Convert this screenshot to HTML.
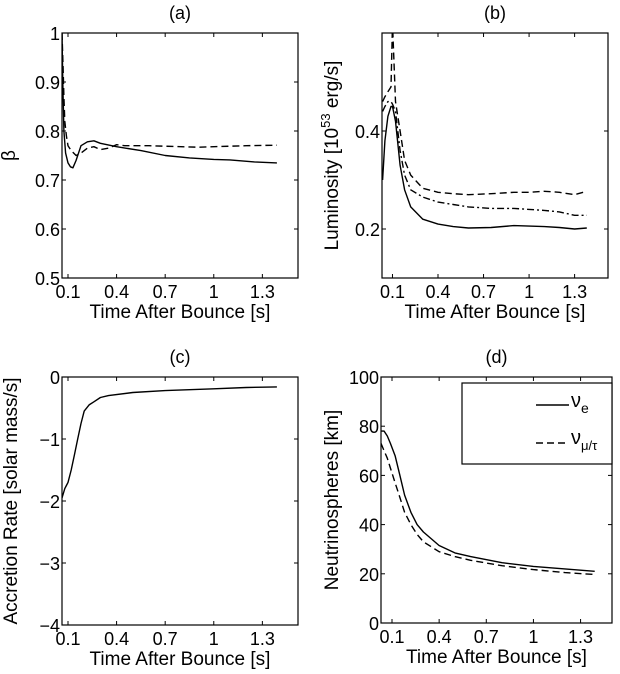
<!DOCTYPE html>
<html><head><meta charset="utf-8"><style>
body{margin:0;background:#fff;}
svg{display:block;font-family:"Liberation Sans",sans-serif;}
</style></head><body>
<svg id="fig" width="620" height="674" viewBox="0 0 620 674"></svg>
<script>
const xTicks=[0.1,0.4,0.7,1,1.3];
const xTickLabels=["0.1","0.4","0.7","1","1.3"];
// (a)
const aT=[0.063,0.068,0.075,0.085,0.1,0.115,0.13,0.15,0.18,0.22,0.26,0.3,0.4,0.55,0.7,0.85,1.0,1.1,1.25,1.39];
const aSolid=[1.0,0.9,0.8,0.755,0.735,0.727,0.725,0.74,0.77,0.778,0.78,0.775,0.768,0.76,0.75,0.745,0.742,0.741,0.737,0.735];
const aDashT=[0.063,0.07,0.075,0.08,0.09,0.1,0.12,0.15,0.18,0.22,0.26,0.3,0.35,0.4,0.45,0.6,0.9,1.2,1.39];
const aDash=[1.0,0.93,0.87,0.82,0.79,0.77,0.76,0.75,0.755,0.765,0.768,0.762,0.765,0.772,0.77,0.77,0.767,0.77,0.771];
// (b)
const bT=[0.035,0.05,0.07,0.09,0.1,0.12,0.15,0.18,0.22,0.3,0.4,0.5,0.6,0.75,0.9,1.0,1.1,1.2,1.3,1.38];
const bSolid=[0.3,0.38,0.43,0.45,0.45,0.42,0.33,0.28,0.245,0.22,0.21,0.205,0.202,0.203,0.207,0.206,0.205,0.203,0.2,0.202];
const bDash=[0.46,0.47,0.48,0.49,0.62,0.46,0.4,0.34,0.31,0.283,0.275,0.272,0.27,0.272,0.275,0.275,0.277,0.275,0.27,0.277];
const bDashDot=[0.44,0.45,0.46,0.46,0.455,0.44,0.36,0.31,0.28,0.265,0.255,0.25,0.245,0.242,0.242,0.24,0.238,0.235,0.228,0.228];
// (c)
const cT=[0.063,0.08,0.09,0.1,0.12,0.14,0.16,0.18,0.2,0.23,0.26,0.3,0.35,0.5,0.7,1.0,1.2,1.39];
const cRate=[-1.95,-1.8,-1.75,-1.7,-1.5,-1.25,-1.0,-0.75,-0.55,-0.45,-0.4,-0.33,-0.3,-0.25,-0.22,-0.19,-0.17,-0.16];
// (d)
const dT=[0.03,0.05,0.07,0.09,0.12,0.15,0.18,0.22,0.26,0.3,0.4,0.5,0.6,0.8,1.0,1.2,1.39];
const dE=[78,78,76,73,68,60,52,45,40,37,31.5,28.5,27,24.5,23,22,21];
const dMu=[73,70,67,63,57,51,45,40,36,33,29,27,25.5,23.3,21.7,20.5,19.7];

const NS="http://www.w3.org/2000/svg";
const svg=document.getElementById('fig');
function mk(tag,attrs,parent){const e=document.createElementNS(NS,tag);for(const k in attrs)e.setAttribute(k,attrs[k]);(parent||svg).appendChild(e);return e;}
function axes(p){
  const g=mk('g',{});
  
  
  const sx=v=>p.x0+(v-p.xmin)/(p.xmax-p.xmin)*(p.x1-p.x0);
  const sy=v=>p.y1-(v-p.ymin)/(p.ymax-p.ymin)*(p.y1-p.y0);
  const fr=mk('rect',{x:p.x0,y:p.y0,width:p.x1-p.x0,height:p.y1-p.y0,fill:'none',stroke:'#000','stroke-width':1.2},g);
  
  
  xTicks.forEach((t,i)=>{
    const x=sx(t);
    mk('line',{x1:x,x2:x,y1:p.y1,y2:p.y1-4,stroke:'#000'},g);
    mk('line',{x1:x,x2:x,y1:p.y0,y2:p.y0+4,stroke:'#000'},g);
    const tx=mk('text',{x:x,y:p.y1+20,'text-anchor':'middle','font-size':18},g);
    tx.textContent=xTickLabels[i];
    
    
  });
  p.yTicks.forEach((t,i)=>{
    const y=sy(t);
    mk('line',{x1:p.x0,x2:p.x0+4,y1:y,y2:y,stroke:'#000'},g);
    mk('line',{x1:p.x1,x2:p.x1-4,y1:y,y2:y,stroke:'#000'},g);
    const tx=mk('text',{x:p.x0-2,y:y+7,'text-anchor':'end','font-size':18},g);
    tx.textContent=p.yLabels[i];
    
    
  });
  const xt=mk('text',{x:(p.x0+p.x1)/2,y:p.y1+40,'text-anchor':'middle','font-size':19},g);
  xt.textContent='Time After Bounce [s]';
  
  
  const yt=mk('text',{x:0,y:0,'text-anchor':'middle','font-size':19,transform:`translate(${p.ylx},${(p.y0+p.y1)/2}) rotate(-90)`},g);
  yt.innerHTML=p.ylabel;
  
  
  const tt=mk('text',{x:(p.x0+p.x1)/2,y:p.y0-14,'text-anchor':'middle','font-size':18},g);
  tt.textContent=p.title;
  
  
  const clip=mk('clipPath',{id:'c'+p.name},g);
  mk('rect',{x:p.x0,y:p.y0,width:p.x1-p.x0,height:p.y1-p.y0},clip);
  p.series.forEach(s=>{
    const d=s.t.map((t,i)=>(i?'L':'M')+sx(t).toFixed(1)+','+sy(s.v[i]).toFixed(1)).join(' ');
    const pa=mk('path',{d:d,fill:'none',stroke:'#000','stroke-width':1.4,'stroke-dasharray':s.dash||'none','clip-path':`url(#c${p.name})`,'stroke-linejoin':'round'},g);
    
    
  });
  return g;
}
axes({name:'panel-a',title:'(a)',x0:62,x1:298,y0:33,y1:278,xmin:0.063,xmax:1.52,ymin:0.5,ymax:1,
  yTicks:[0.5,0.6,0.7,0.8,0.9,1],yLabels:["0.5","0.6","0.7","0.8","0.9","1"],ylx:15,ylabel:'β',
  series:[{name:'beta-solid-line',t:aT,v:aSolid},{name:'beta-dashed-line',t:aDashT,v:aDash,dash:'7,4'}]});
axes({name:'panel-b',title:'(b)',x0:382,x1:608,y0:33,y1:278,xmin:0.031,xmax:1.52,ymin:0.1,ymax:0.6,
  yTicks:[0.2,0.4],yLabels:["0.2","0.4"],ylx:338,ylabel:'Luminosity [10<tspan dy="-8" font-size="13">53</tspan><tspan dy="8"> erg/s]</tspan>',
  series:[{name:'luminosity-solid-line',t:bT,v:bSolid},{name:'luminosity-dashed-line',t:bT,v:bDash,dash:'7,4'},{name:'luminosity-dashdot-line',t:bT,v:bDashDot,dash:'7,3,2,3'}]});
axes({name:'panel-c',title:'(c)',x0:62,x1:298,y0:377,y1:625,xmin:0.063,xmax:1.52,ymin:-4,ymax:0,
  yTicks:[-4,-3,-2,-1,0],yLabels:["−4","−3","−2","−1","0"],ylx:17,ylabel:'Accretion Rate [solar mass/s]',
  series:[{name:'accretion-rate-line',t:cT,v:cRate}]});
axes({name:'panel-d',title:'(d)',x0:381,x1:612,y0:377,y1:623,xmin:0.03,xmax:1.5,ymin:0,ymax:100,
  yTicks:[0,20,40,60,80,100],yLabels:["0","20","40","60","80","100"],ylx:338,ylabel:'Neutrinospheres [km]',
  series:[{name:'nu-e-line',t:dT,v:dE},{name:'nu-mu-tau-line',t:dT,v:dMu,dash:'7,4'}]});
// legend
const lg=mk('g',{});


mk('rect',{x:462,y:383,width:150,height:81,fill:'#fff',stroke:'#000','stroke-width':1.2},lg);
mk('line',{x1:536,x2:569,y1:405,y2:405,stroke:'#000','stroke-width':1.4},lg);
mk('line',{x1:536,x2:569,y1:443,y2:443,stroke:'#000','stroke-width':1.4,'stroke-dasharray':'7,4'},lg);
const l1=mk('text',{x:571,y:407,'font-size':20},lg);
l1.innerHTML='ν<tspan dy="6" font-size="14">e</tspan>';


const l2=mk('text',{x:571,y:444,'font-size':20},lg);
l2.innerHTML='ν<tspan dy="6" font-size="13">μ/τ</tspan>';


</script>
</body></html>
